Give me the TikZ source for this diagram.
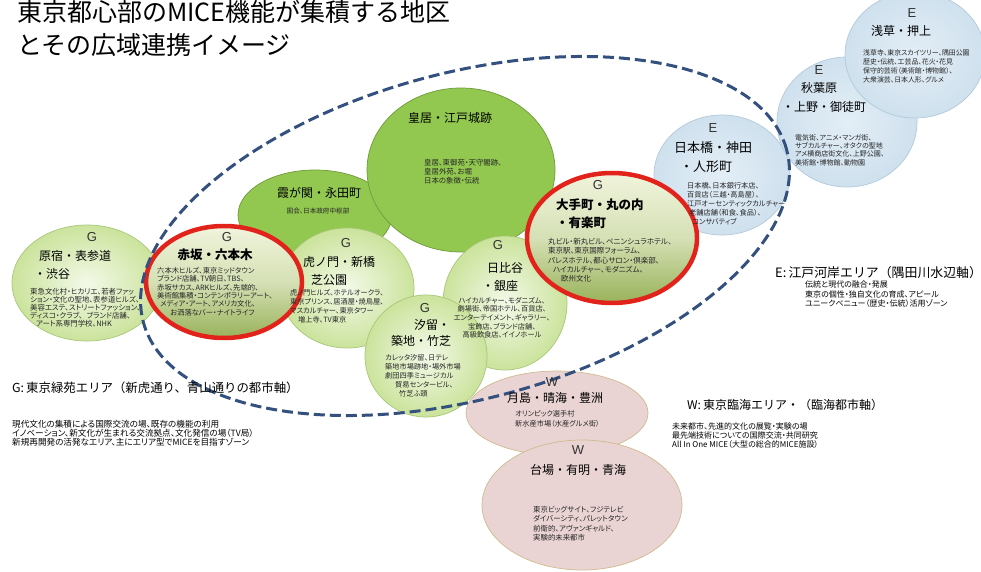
\documentclass[tikz,border=0pt]{standalone}
\usepackage{fontspec}
\setmainfont{Noto Sans CJK JP}
\newfontfamily\pf{Noto Sans CJK JP}[RawFeature=+palt]
\newfontfamily\latinf{Liberation Sans}
\usetikzlibrary{shapes.geometric}
\definecolor{lgin}{HTML}{F3F9E8}
\definecolor{lgout}{HTML}{CBE39C}
\definecolor{lgline}{HTML}{A8C77A}
\definecolor{kgreen}{HTML}{92C850}
\definecolor{kline}{HTML}{6E9A3A}
\definecolor{rtop}{HTML}{F0F4DC}
\definecolor{rbot}{HTML}{98B25A}
\definecolor{rline}{HTML}{E2231B}
\definecolor{bin}{HTML}{E3EEF6}
\definecolor{bout}{HTML}{CFE1EE}
\definecolor{bline}{HTML}{B3C9DB}
\definecolor{pfill}{HTML}{EAD4D3}
\definecolor{pline}{HTML}{CDBB8E}
\definecolor{ring}{HTML}{33507E}
\newcommand\bsz[2]{\pf\fontsize{#1}{#2}\selectfont}
\begin{document}
\begin{tikzpicture}[x=1pt,y=1pt,
  area/.style={ellipse, inner sep=0, line width=0.7pt},
  lgarea/.style={area, draw=lgline, inner color=lgin, outer color=lgout},
  karea/.style={area, draw=kline, fill=kgreen},
  rarea/.style={area, draw=rline, line width=4.5pt, top color=rtop, bottom color=rbot, middle color=rtop!70!rbot},
  barea/.style={area, draw=bline, inner color=bin, outer color=bout},
  parea/.style={area, draw=pline, fill=pfill},
  ltr/.style={font=\latinf\fontsize{13}{13}\selectfont, inner sep=0, text=black!80},
  ttl/.style={font=\fontsize{12}{14}\selectfont, inner sep=0},
  bttl/.style={font=\bfseries\fontsize{12.5}{14}\selectfont, inner sep=0, anchor=west},
  body/.style={font=\bsz{7.2}{8.8}, inner sep=0, align=left, anchor=north west, text=black!85},
  head/.style={font=\fontsize{12.4}{14}\selectfont, inner sep=0, anchor=west},
  lbody/.style={font=\bsz{8}{9.3}, inner sep=0, align=left, anchor=north west}
]
\fill[white] (0,0) rectangle (981,-572);
\useasboundingbox (0,0) rectangle (981,-572);

% areas (back to front)
\node[karea, minimum width=154, minimum height=90] (kasumi) at (315,-215) {};
\node[karea, minimum width=188, minimum height=164] (kokyo) at (461,-170) {};
\node[lgarea, minimum width=150, minimum height=116] (harajuku) at (87,-283) {};
\node[lgarea, minimum width=134, minimum height=120] (tora) at (347,-288) {};
\node[rarea, minimum width=156, minimum height=112] (akasaka) at (224,-282) {};
\node[lgarea, minimum width=124, minimum height=134] (hibiya) at (505,-303) {};
\node[lgarea, minimum width=122, minimum height=122] (shiodome) at (426,-356) {};
\node[barea, minimum width=136, minimum height=120] (nihonbashi) at (722,-175) {};
\node[barea, minimum width=140, minimum height=130] (akiba) at (847,-122) {};
\node[barea, minimum width=140, minimum height=126] (asakusa) at (915,-55) {};
\node[rarea, minimum width=170, minimum height=130] (otemachi) at (612,-238) {};
\node[parea, minimum width=182, minimum height=84] (tsuki) at (557,-413) {};
\node[parea, minimum width=200, minimum height=130] (daiba) at (582,-505) {};

% dashed ring
\node[ellipse, draw=ring, line width=3pt, dash pattern=on 11pt off 5pt, inner sep=0,
      minimum width=666, minimum height=326, rotate=15] (ringe) at (465,-236) {};

% title
\node[font=\fontsize{25}{28}\selectfont, inner sep=0, anchor=west] (t1) at (17,-12) {東京都心部のMICE機能が集積する地区};
\node[font=\fontsize{25}{28}\selectfont, inner sep=0, anchor=west] (t2) at (17,-45) {とその広域連携イメージ};

% Asakusa
\node[ltr] (aE) at (912,-13) {E};
\node[ttl] (aT) at (901,-31) {浅草・押上};
\node[body, font=\bsz{6.9}{9.3}] (aB) at (863,-49) {浅草寺、東京スカイツリー、隅田公園\\歴史・伝統、工芸品、花火・花見\\保守的芸術（美術館・博物館）、\\大衆演芸、日本人形、グルメ};

% Akihabara
\node[ltr] (kE) at (819,-70) {E};
\node[ttl] (kT1) at (819,-88) {秋葉原};
\node[ttl] (kT2) at (824,-107) {・上野・御徒町};
\node[body, font=\bsz{7}{8.4}] (kB) at (795,-134) {電気街、アニメ・マンガ街、\\サブカルチャー、オタクの聖地\\アメ横商店街文化、上野公園、\\美術館・博物館、動物園};

% Nihonbashi
\node[ltr] (nE) at (713,-128) {E};
\node[ttl, font=\fontsize{13}{15}\selectfont] (nT1) at (713,-148) {日本橋・神田};
\node[ttl, font=\fontsize{13}{15}\selectfont] (nT2) at (706,-167) {・人形町};
\node[body, font=\bsz{7.2}{9}] (nB) at (687,-182) {日本橋、日本銀行本店、\\百貨店（三越・高島屋）、\\江戸オーセンティックカルチャー\\\hspace*{2pt}老舗店舗（和食、食品）、\\\hspace*{5pt}コンサバティブ};

% Kokyo
\node[ttl] (kkT) at (450,-118) {皇居・江戸城跡};
\node[body, font=\bsz{7.4}{9}] (kkB) at (424,-159) {皇居、東御苑・天守閣跡、\\皇居外苑、お堀\\日本の象徴・伝統};

% Kasumigaseki
\node[ttl] (ksT) at (319,-193) {霞が関・永田町};
\node[body, anchor=center, font=\bsz{6.6}{8}] (ksB) at (318,-211) {国会、日本政府中枢部};

% Harajuku
\node[ltr] (hE) at (92,-237) {G};
\node[ttl] (hT1) at (75,-256) {原宿・表参道};
\node[ttl] (hT2) at (52,-274) {・渋谷};
\node[body, font=\bsz{7.4}{8}] (hB) at (30,-288) {東急文化村・ヒカリエ、若者ファッ\\ション・文化の聖地、表参道ヒルズ、\\美容エステ、ストリートファッション、\\ディスコ・クラブ、\hspace{4pt}ブランド店舗、\\\hspace*{6pt}アート系専門学校、NHK};

% Akasaka
\node[ltr] (sE) at (227,-237) {G};
\node[bttl, anchor=center] (sT) at (215,-255) {赤坂・六本木};
\node[body, font=\bsz{7.3}{8.4}] (sB) at (157,-267) {六本木ヒルズ、東京ミッドタウン\\ブランド店舗、TV朝日、TBS、\\赤坂サカス、ARKヒルズ、先端的、\\美術館集積・コンテンポラリーアート、\\\hspace*{3pt}メディア・アート、アメリカ文化、\\\hspace*{13pt}お洒落なバー・ナイトライフ};

% Toranomon
\node[ltr] (tE) at (346,-243) {G};
\node[ttl] (tT1) at (339,-262) {虎ノ門・新橋};
\node[ttl] (tT2) at (329,-280) {芝公園};
\node[body, font=\bsz{7.2}{9}] (tB) at (290,-289) {虎ノ門ヒルズ、ホテルオークラ、\\東京プリンス、居酒屋・焼鳥屋、\\マスカルチャー、東京タワー\\\hspace*{8pt}増上寺、TV東京};

% Hibiya
\node[ltr] (bE) at (498,-245) {G};
\node[ttl] (bT1) at (505,-268) {日比谷};
\node[ttl] (bT2) at (500,-286) {・銀座};
\node[body, anchor=north, align=center, font=\bsz{7.2}{8.6}] (bB) at (502,-297) {ハイカルチャー、モダニズム、\\劇場街、帝国ホテル、百貨店、\\エンターテイメント、ギャラリー、\\宝飾店、ブランド店舗、\\高級飲食店、イイノホール};

% Shiodome
\node[ltr] (dE) at (425,-308) {G};
\node[ttl] (dT1) at (432,-325) {汐留・};
\node[ttl] (dT2) at (421,-341) {築地・竹芝};
\node[body, font=\bsz{7.2}{9}] (dB) at (385,-354) {カレッタ汐留、日テレ\\築地市場跡地・場外市場\\劇団四季ミュージカル\\\hspace*{10pt}貿易センタービル、\\\hspace*{14pt}竹芝ふ頭};

% Otemachi
\node[ltr] (oE) at (598,-185) {G};
\node[bttl] (oT1) at (556,-205) {大手町・丸の内};
\node[bttl] (oT2) at (556,-223) {・有楽町};
\node[body, font=\bsz{7.5}{9.3}] (oB) at (548,-238) {丸ビル・新丸ビル、ペニンシュラホテル、\\東京駅、東京国際フォーラム、\\パレスホテル、都心サロン・倶楽部、\\\hspace*{5pt}ハイカルチャー、モダニズム、\\\hspace*{13pt}欧州文化};

% Tsukishima
\node[ltr] (wE1) at (552,-382) {W};
\node[ttl] (wT1) at (555,-398) {月島・晴海・豊洲};
\node[body, font=\bsz{7.2}{10}] (wB1) at (515,-410) {オリンピック選手村\\新水産市場（水産グルメ街）};

% Daiba
\node[ltr] (wE2) at (578,-450) {W};
\node[ttl] (wT2) at (578,-470) {台場・有明・青海};
\node[body, font=\bsz{7.4}{9.5}] (wB2) at (533,-506) {東京ビッグサイト、フジテレビ\\ダイバーシティ、パレットタウン\\前衛的、アヴァンギャルド、\\実験的未来都市};

% legends
\node[head] (gH) at (12,-388) {G:\,東京緑苑エリア（新虎通り、青山通りの都市軸）};
\node[lbody, font=\bsz{8.6}{9}] (gB) at (12,-420) {現代文化の集積による国際交流の場、既存の機能の利用\\イノベーション、新文化が生まれる交流拠点、文化発信の場（TV局）\\新規再開発の活発なエリア、主にエリア型でMICEを目指すゾーン};

\node[head, font=\fontsize{12.9}{14}\selectfont] (eH) at (775,-273) {E:\,江戸河岸エリア（隅田川水辺軸）};
\node[lbody, font=\bsz{8}{9.5}] (eB) at (805,-281) {伝統と現代の融合・発展\\東京の個性・独自文化の育成、アピール\\ユニークベニュー（歴史・伝統）活用ゾーン};

\node[head, font=\fontsize{12}{14}\selectfont] (wH) at (687,-405) {W:\,東京臨海エリア・（臨海都市軸）};
\node[lbody, font=\bsz{8}{9}] (wB) at (672,-423) {未来都市、先進的文化の展覧・実験の場\\最先端技術についての国際交流・共同研究\\All In One MICE（大型の総合的MICE施設）};
\end{tikzpicture}
\end{document}
